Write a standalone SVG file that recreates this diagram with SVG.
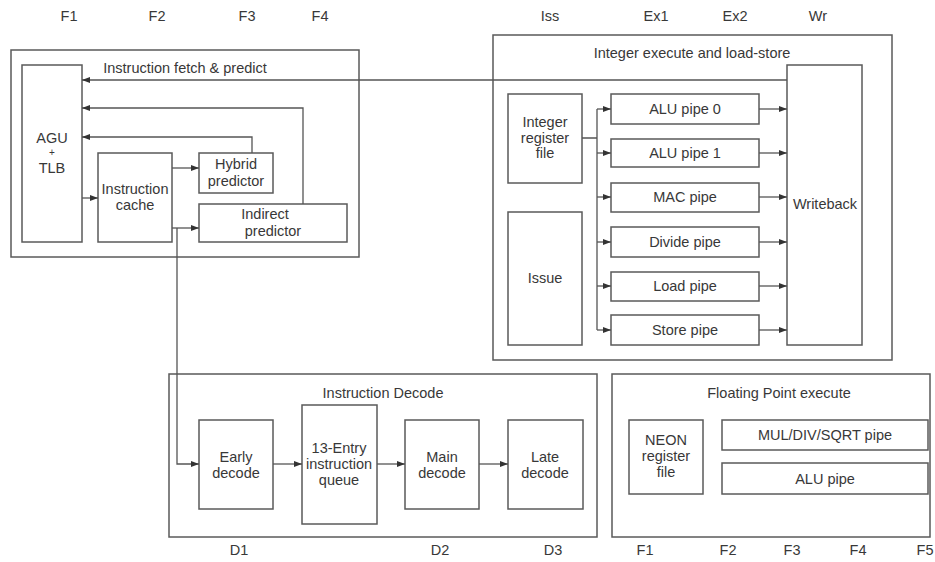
<svg xmlns="http://www.w3.org/2000/svg" width="935" height="562" viewBox="0 0 935 562">
<defs>
<marker id="ah" viewBox="0 0 8 6" refX="8" refY="3" markerWidth="8" markerHeight="6" markerUnits="userSpaceOnUse" orient="auto">
<path d="M0,0 L8,3 L0,6 Z" fill="#333"/>
</marker>
</defs>
<style>
text{font-family:"Liberation Sans",Arial,sans-serif;font-size:14.5px;fill:#383838;text-anchor:middle}
.box{fill:#fff;stroke:#5a5a5a;stroke-width:1.5}
.c{fill:none;stroke:#555;stroke-width:1.3}
.a{fill:none;stroke:#555;stroke-width:1.3;marker-end:url(#ah)}
</style>
<rect width="935" height="562" fill="#fff"/>

<g id="stages">
<text x="69" y="21">F1</text>
<text x="157" y="21">F2</text>
<text x="247" y="21">F3</text>
<text x="320" y="21">F4</text>
<text x="550" y="21">Iss</text>
<text x="656" y="21">Ex1</text>
<text x="735" y="21">Ex2</text>
<text x="818" y="21">Wr</text>
<text x="239" y="555">D1</text>
<text x="440" y="555">D2</text>
<text x="553" y="555">D3</text>
<text x="645" y="555">F1</text>
<text x="728" y="555">F2</text>
<text x="792" y="555">F3</text>
<text x="858" y="555">F4</text>
<text x="925" y="555">F5</text>
</g>

<g id="fetch">
<rect class="box" x="11" y="50" width="348" height="207"/>
<text x="185" y="73">Instruction fetch &amp; predict</text>
</g>
<g id="agu">
<rect class="box" x="22" y="65" width="60" height="177"/>
<text x="52" y="143">AGU</text>
<text x="52" y="156" style="font-size:10px">+</text>
<text x="52" y="173">TLB</text>
</g>
<g id="icache">
<rect class="box" x="98" y="153" width="74" height="89"/>
<text x="135" y="194">Instruction</text>
<text x="135" y="210">cache</text>
</g>
<g id="hybrid">
<rect class="box" x="199" y="153" width="74" height="40"/>
<text x="236" y="169">Hybrid</text>
<text x="236" y="186">predictor</text>
</g>
<g id="indirect">
<rect class="box" x="199" y="204" width="148" height="38"/>
<text x="265" y="219">Indirect</text>
<text x="273" y="236">predictor</text>
</g>

<g id="intexec">
<rect class="box" x="493" y="35" width="399" height="325"/>
<text x="692" y="58">Integer execute and load-store</text>
</g>
<g id="writeback">
<rect class="box" x="787" y="65" width="75" height="280"/>
<text x="825" y="209">Writeback</text>
</g>
<g id="intreg">
<rect class="box" x="508" y="94" width="74" height="89"/>
<text x="545" y="127">Integer</text>
<text x="545" y="143">register</text>
<text x="545" y="158">file</text>
</g>
<g id="issue">
<rect class="box" x="508" y="212" width="74" height="133"/>
<text x="545" y="283">Issue</text>
</g>
<g id="alu0"><rect class="box" x="611" y="94" width="148" height="30"/><text x="685" y="114">ALU pipe 0</text></g>
<g id="alu1"><rect class="box" x="611" y="139" width="148" height="28"/><text x="685" y="158">ALU pipe 1</text></g>
<g id="mac"><rect class="box" x="611" y="183" width="148" height="29"/><text x="685" y="202">MAC pipe</text></g>
<g id="divide"><rect class="box" x="611" y="227" width="148" height="30"/><text x="685" y="247">Divide pipe</text></g>
<g id="load"><rect class="box" x="611" y="272" width="148" height="29"/><text x="685" y="291">Load pipe</text></g>
<g id="store"><rect class="box" x="611" y="315" width="148" height="30"/><text x="685" y="335">Store pipe</text></g>

<g id="decode">
<rect class="box" x="169" y="374" width="428" height="163"/>
<text x="383" y="398">Instruction Decode</text>
</g>
<g id="early"><rect class="box" x="199" y="420" width="74" height="89"/><text x="236" y="462">Early</text><text x="236" y="478">decode</text></g>
<g id="queue"><rect class="box" x="302" y="405" width="75" height="119"/><text x="339" y="453">13-Entry</text><text x="339" y="469">instruction</text><text x="339" y="485">queue</text></g>
<g id="main"><rect class="box" x="405" y="420" width="74" height="89"/><text x="442" y="462">Main</text><text x="442" y="478">decode</text></g>
<g id="late"><rect class="box" x="508" y="420" width="75" height="89"/><text x="545" y="462">Late</text><text x="545" y="478">decode</text></g>

<g id="fp">
<rect class="box" x="612" y="374" width="318" height="163"/>
<text x="779" y="398">Floating Point execute</text>
</g>
<g id="neon"><rect class="box" x="629" y="420" width="74" height="74"/><text x="666" y="445">NEON</text><text x="666" y="461">register</text><text x="666" y="477">file</text></g>
<g id="muldiv"><rect class="box" x="722" y="420" width="206" height="30"/><text x="825" y="440">MUL/DIV/SQRT pipe</text></g>
<g id="falu"><rect class="box" x="722" y="463" width="206" height="31"/><text x="825" y="484">ALU pipe</text></g>

<g id="connectors">
<path class="a" d="M787,80 H82"/>
<path class="a" d="M303,204 V108 H82"/>
<path class="a" d="M252,153 V137 H82"/>
<path class="a" d="M82,198 H98"/>
<path class="a" d="M172,168 H199"/>
<path class="a" d="M172,228 H199"/>
<path class="a" d="M177,228 V464 H199"/>
<path class="a" d="M273,464 H302"/>
<path class="a" d="M377,464 H405"/>
<path class="a" d="M479,464 H508"/>
<path class="c" d="M582,138 H597 M597,109 V330"/>
<path class="a" d="M597,109 H611"/>
<path class="a" d="M597,153 H611"/>
<path class="a" d="M597,197 H611"/>
<path class="a" d="M597,242 H611"/>
<path class="a" d="M597,286 H611"/>
<path class="a" d="M597,330 H611"/>
<path class="a" d="M759,109 H787"/>
<path class="a" d="M759,153 H787"/>
<path class="a" d="M759,197 H787"/>
<path class="a" d="M759,242 H787"/>
<path class="a" d="M759,286 H787"/>
<path class="a" d="M759,330 H787"/>
</g>
</svg>
